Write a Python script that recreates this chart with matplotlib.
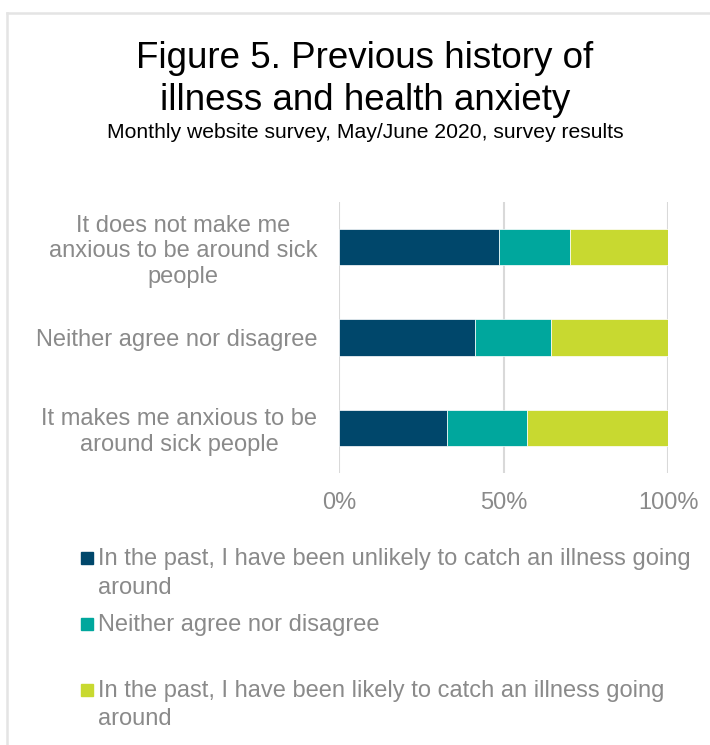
import numpy as np
import matplotlib
matplotlib.use("Agg")
import matplotlib.pyplot as plt
from matplotlib.patches import Rectangle
from matplotlib.lines import Line2D

plt.rcParams['font.family'] = ['Liberation Sans', 'DejaVu Sans']

# --- data (percent of respondents) ---
categories = ["It does not make me\nanxious to be around sick\npeople",
              "Neither agree nor disagree",
              "It makes me anxious to be\naround sick people"]
series_names = ["In the past, I have been unlikely to catch an illness going\naround",
                "Neither agree nor disagree",
                "In the past, I have been likely to catch an illness going\naround"]
unlikely = [48.7, 41.4, 32.8]
neither = [21.5, 23.1, 24.3]
likely = [29.8, 35.5, 42.9]
colors = ["#00476B", "#00A79D", "#C8D930"]
ticks = [0, 50, 100]
tick_labels = ["0%", "50%", "100%"]

GRAY = "#8A8A8A"
W, H = 710, 745
fig = plt.figure(figsize=(W / 100, H / 100), dpi=100)

# light frame
fig.add_artist(Line2D([7 / W, 7 / W], [0, 1 - 13 / H], color="#E4E4E4", lw=1.8))
fig.add_artist(Line2D([7 / W, 1], [1 - 13 / H, 1 - 13 / H], color="#E4E4E4", lw=1.8))

# titles
fig.text(365 / W, 1 - 68 / H, "Figure 5. Previous history of", ha="center", va="baseline",
         fontsize=26.5, color="black")
fig.text(365 / W, 1 - 110 / H, "illness and health anxiety", ha="center", va="baseline",
         fontsize=26.5, color="black")
fig.text(365 / W, 1 - 138 / H, "Monthly website survey, May/June 2020, survey results",
         ha="center", va="baseline", fontsize=15.2, color="black")

ax = fig.add_axes([339 / W, 1 - 473 / H, 329 / W, 271 / H])
y = np.arange(len(categories))
left = np.zeros(len(categories))
for vals, c in zip([unlikely, neither, likely], colors):
    ax.barh(y, vals, left=left, height=0.40, color=c, edgecolor="white", linewidth=0.5, zorder=3)
    left += np.array(vals)

ax.set_xlim(0, 100)
ax.set_ylim(2.5, -0.5)
ax.set_xticks(ticks)
ax.set_xticklabels(tick_labels)
ax.set_yticks(y)
ax.set_yticklabels(categories, multialignment="center")
ax.tick_params(axis="both", length=0, labelsize=17, labelcolor=GRAY)
ax.tick_params(axis="y", pad=15.8)
ax.tick_params(axis="x", pad=14)
ax.xaxis.grid(True, color="#D9D9D9", lw=1.5, zorder=0)
for s in ax.spines.values():
    s.set_visible(False)

# legend drawn by hand (uneven spacing in the original)
baselines = [565.5, 631, 697]
for name, c, b in zip(series_names, colors, baselines):
    fig.add_artist(Rectangle((81 / W, 1 - (b - 1.5) / H), 12 / W, 12 / H, color=c,
                             transform=fig.transFigure))
    for i, line in enumerate(name.split("\n")):
        fig.text(98 / W, 1 - (b + 28 * i) / H, line, ha="left", va="baseline",
                 fontsize=17, color=GRAY)

fig.savefig("out.png", dpi=100)
